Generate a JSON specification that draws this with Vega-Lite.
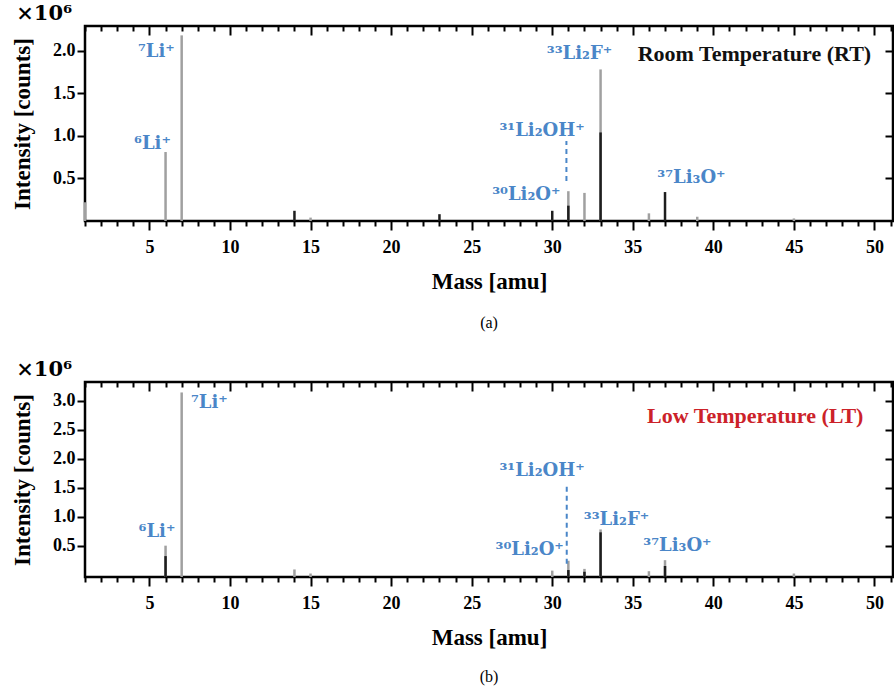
{
  "$schema": "https://vega.github.io/schema/vega-lite/v6.json",
  "padding": {"left": 10, "top": 2, "right": 0, "bottom": 0},
  "background": "white",
  "spacing": 25,
  "config": {
    "font": "Liberation Serif",
    "view": {"stroke": "black", "strokeWidth": 2.5},
    "axis": {
      "domain": false,
      "grid": false,
      "labelFont": "Liberation Serif",
      "labelFontWeight": "bold",
      "labelFontSize": 18,
      "labelColor": "black",
      "titleFont": "Liberation Serif",
      "titleFontWeight": "bold",
      "titleFontSize": 23,
      "titleColor": "black",
      "tickColor": "black",
      "tickWidth": 2
    },
    "title": {"font": "Liberation Serif", "color": "black"}
  },
  "datasets": {
    "rt": [
      {"mass": 1, "value": 0.22, "series": "grey"},
      {"mass": 6, "value": 0.81, "series": "grey"},
      {"mass": 7, "value": 2.18, "series": "grey"},
      {"mass": 15, "value": 0.04, "series": "grey"},
      {"mass": 31, "value": 0.35, "series": "grey"},
      {"mass": 32, "value": 0.33, "series": "grey"},
      {"mass": 33, "value": 1.78, "series": "grey"},
      {"mass": 36, "value": 0.09, "series": "grey"},
      {"mass": 39, "value": 0.05, "series": "grey"},
      {"mass": 45, "value": 0.03, "series": "grey"},
      {"mass": 14, "value": 0.12, "series": "dark"},
      {"mass": 23, "value": 0.08, "series": "dark"},
      {"mass": 30, "value": 0.12, "series": "dark"},
      {"mass": 31, "value": 0.18, "series": "dark"},
      {"mass": 33, "value": 1.04, "series": "dark"},
      {"mass": 37, "value": 0.34, "series": "dark"}
    ],
    "lt": [
      {"mass": 6, "value": 0.5, "series": "grey"},
      {"mass": 7, "value": 3.14, "series": "grey"},
      {"mass": 14, "value": 0.09, "series": "grey"},
      {"mass": 15, "value": 0.02, "series": "grey"},
      {"mass": 30, "value": 0.07, "series": "grey"},
      {"mass": 31, "value": 0.24, "series": "grey"},
      {"mass": 32, "value": 0.1, "series": "grey"},
      {"mass": 33, "value": 0.78, "series": "grey"},
      {"mass": 36, "value": 0.06, "series": "grey"},
      {"mass": 37, "value": 0.25, "series": "grey"},
      {"mass": 45, "value": 0.02, "series": "grey"},
      {"mass": 6, "value": 0.32, "series": "dark"},
      {"mass": 31, "value": 0.08, "series": "dark"},
      {"mass": 32, "value": 0.05, "series": "dark"},
      {"mass": 33, "value": 0.73, "series": "dark"},
      {"mass": 37, "value": 0.15, "series": "dark"}
    ],
    "rtLabels": [
      {"mass": 5.43, "value": 1.99, "label": "⁷Li⁺"},
      {"mass": 5.19, "value": 0.9, "label": "⁶Li⁺"},
      {"mass": 31.69, "value": 1.96, "label": "³³Li₂F⁺"},
      {"mass": 29.37, "value": 1.06, "label": "³¹Li₂OH⁺"},
      {"mass": 28.39, "value": 0.3, "label": "³⁰Li₂O⁺"},
      {"mass": 38.64, "value": 0.51, "label": "³⁷Li₃O⁺"}
    ],
    "ltLabels": [
      {"mass": 8.72, "value": 2.96, "label": "⁷Li⁺"},
      {"mass": 5.47, "value": 0.73, "label": "⁶Li⁺"},
      {"mass": 29.37, "value": 1.78, "label": "³¹Li₂OH⁺"},
      {"mass": 33.99, "value": 0.94, "label": "³³Li₂F⁺"},
      {"mass": 28.6, "value": 0.42, "label": "³⁰Li₂O⁺"},
      {"mass": 37.77, "value": 0.49, "label": "³⁷Li₃O⁺"}
    ],
    "rtDash": [{"mass": 30.88, "y1": 0.47, "y2": 0.94}],
    "ltDash": [{"mass": 30.9, "y1": 0.19, "y2": 1.585}],
    "rtTitle": [{"mass": 42.55, "value": 1.96, "label": "Room Temperature (RT)"}],
    "ltTitle": [{"mass": 42.6, "value": 2.74, "label": "Low Temperature (LT)"}]
  },
  "vconcat": [
    {
      "title": {"text": "×10⁶", "orient": "top", "anchor": "start", "frame": "bounds", "font": "DejaVu Serif", "fontSize": 21, "fontWeight": "bold", "offset": 0, "dx": 6},
      "vconcat": [
        {
          "width": 808,
          "height": 195,
          "title": {"text": "(a)", "orient": "bottom", "anchor": "middle", "fontSize": 16, "fontWeight": "normal", "offset": 22},
          "resolve": {"axis": {"x": "independent", "y": "independent"}},
          "layer": [
            {
              "data": {"name": "rt"},
              "mark": {"type": "rule", "strokeWidth": 2.5},
              "encoding": {
                "x": {"field": "mass", "type": "quantitative", "scale": {"domain": [1, 51.15], "nice": false, "zero": false},
                  "axis": {"orient": "bottom", "title": "Mass [amu]", "values": [1,2,3,4,5,6,7,8,9,10,11,12,13,14,15,16,17,18,19,20,21,22,23,24,25,26,27,28,29,30,31,32,33,34,35,36,37,38,39,40,41,42,43,44,45,46,47,48,49,50,51],
                    "labelExpr": "datum.value % 5 === 0 ? datum.label : ''",
                    "tickSize": {"condition": {"test": "datum.value % 5 === 0", "value": 9}, "value": 5},
                    "labelPadding": 8, "titlePadding": 14, "labelFlush": false}},
                "y": {"field": "value", "type": "quantitative", "scale": {"domain": [0, 2.29], "nice": false},
                  "axis": {"orient": "left", "title": "Intensity [counts]", "values": [0.5, 1, 1.5, 2], "format": ".1f", "tickSize": 8, "labelPadding": 2, "titlePadding": 18}},
                "y2": {"datum": 0},
                "color": {"field": "series", "type": "nominal", "scale": {"domain": ["grey", "dark"], "range": ["#a0a0a0", "#1e1e1e"]}, "legend": null}
              }
            },
            {
              "data": {"name": "rt"},
              "mark": {"type": "rule", "strokeOpacity": 0},
              "encoding": {
                "x": {"field": "mass", "type": "quantitative",
                  "axis": {"orient": "top", "title": null, "labels": false, "values": [1,2,3,4,5,6,7,8,9,10,11,12,13,14,15,16,17,18,19,20,21,22,23,24,25,26,27,28,29,30,31,32,33,34,35,36,37,38,39,40,41,42,43,44,45,46,47,48,49,50,51],
                    "tickSize": {"condition": {"test": "datum.value % 5 === 0", "value": -9}, "value": -5}}},
                "y": {"field": "value", "type": "quantitative",
                  "axis": {"orient": "right", "title": null, "labels": false, "values": [0.5, 1, 1.5, 2], "tickSize": -8}}
              }
            },
            {
              "data": {"name": "rtDash"},
              "mark": {"type": "rule", "strokeDash": [5, 4], "strokeWidth": 2, "color": "#4a86c8"},
              "encoding": {
                "x": {"field": "mass", "type": "quantitative", "axis": null},
                "y": {"field": "y1", "type": "quantitative", "axis": null},
                "y2": {"field": "y2"}
              }
            },
            {
              "data": {"name": "rtLabels"},
              "mark": {"type": "text", "font": "DejaVu Serif", "fontWeight": "bold", "fontSize": 18, "color": "#4a86c8", "align": "center", "baseline": "middle"},
              "encoding": {
                "x": {"field": "mass", "type": "quantitative", "axis": null},
                "y": {"field": "value", "type": "quantitative", "axis": null},
                "text": {"field": "label"}
              }
            },
            {
              "data": {"name": "rtTitle"},
              "mark": {"type": "text", "font": "Liberation Serif", "fontWeight": "bold", "fontSize": 22, "color": "#111111", "align": "center", "baseline": "middle"},
              "encoding": {
                "x": {"field": "mass", "type": "quantitative", "axis": null},
                "y": {"field": "value", "type": "quantitative", "axis": null},
                "text": {"field": "label"}
              }
            }
          ]
        }
      ]
    },
    {
      "title": {"text": "×10⁶", "orient": "top", "anchor": "start", "frame": "bounds", "font": "DejaVu Serif", "fontSize": 21, "fontWeight": "bold", "offset": 0, "dx": 6},
      "vconcat": [
        {
          "width": 808,
          "height": 195,
          "title": {"text": "(b)", "orient": "bottom", "anchor": "middle", "fontSize": 16, "fontWeight": "normal", "offset": 20},
          "resolve": {"axis": {"x": "independent", "y": "independent"}},
          "layer": [
            {
              "data": {"name": "lt"},
              "mark": {"type": "rule", "strokeWidth": 2.5},
              "encoding": {
                "x": {"field": "mass", "type": "quantitative", "scale": {"domain": [1, 51.15], "nice": false, "zero": false},
                  "axis": {"orient": "bottom", "title": "Mass [amu]", "values": [1,2,3,4,5,6,7,8,9,10,11,12,13,14,15,16,17,18,19,20,21,22,23,24,25,26,27,28,29,30,31,32,33,34,35,36,37,38,39,40,41,42,43,44,45,46,47,48,49,50,51],
                    "labelExpr": "datum.value % 5 === 0 ? datum.label : ''",
                    "tickSize": {"condition": {"test": "datum.value % 5 === 0", "value": 9}, "value": 5},
                    "labelPadding": 8, "titlePadding": 14, "labelFlush": false}},
                "y": {"field": "value", "type": "quantitative", "scale": {"domain": [-0.04, 3.32], "nice": false, "zero": false},
                  "axis": {"orient": "left", "title": "Intensity [counts]", "values": [0.5, 1, 1.5, 2, 2.5, 3], "format": ".1f", "tickSize": 8, "labelPadding": 2, "titlePadding": 18}},
                "y2": {"datum": -0.04},
                "color": {"field": "series", "type": "nominal", "scale": {"domain": ["grey", "dark"], "range": ["#a0a0a0", "#1e1e1e"]}, "legend": null}
              }
            },
            {
              "data": {"name": "lt"},
              "mark": {"type": "rule", "strokeOpacity": 0},
              "encoding": {
                "x": {"field": "mass", "type": "quantitative",
                  "axis": {"orient": "top", "title": null, "labels": false, "values": [1,2,3,4,5,6,7,8,9,10,11,12,13,14,15,16,17,18,19,20,21,22,23,24,25,26,27,28,29,30,31,32,33,34,35,36,37,38,39,40,41,42,43,44,45,46,47,48,49,50,51],
                    "tickSize": {"condition": {"test": "datum.value % 5 === 0", "value": -9}, "value": -5}}},
                "y": {"field": "value", "type": "quantitative",
                  "axis": {"orient": "right", "title": null, "labels": false, "values": [0.5, 1, 1.5, 2, 2.5, 3], "tickSize": -8}}
              }
            },
            {
              "data": {"name": "ltDash"},
              "mark": {"type": "rule", "strokeDash": [5, 4], "strokeWidth": 2, "color": "#4a86c8"},
              "encoding": {
                "x": {"field": "mass", "type": "quantitative", "axis": null},
                "y": {"field": "y1", "type": "quantitative", "axis": null},
                "y2": {"field": "y2"}
              }
            },
            {
              "data": {"name": "ltLabels"},
              "mark": {"type": "text", "font": "DejaVu Serif", "fontWeight": "bold", "fontSize": 18, "color": "#4a86c8", "align": "center", "baseline": "middle"},
              "encoding": {
                "x": {"field": "mass", "type": "quantitative", "axis": null},
                "y": {"field": "value", "type": "quantitative", "axis": null},
                "text": {"field": "label"}
              }
            },
            {
              "data": {"name": "ltTitle"},
              "mark": {"type": "text", "font": "Liberation Serif", "fontWeight": "bold", "fontSize": 22, "color": "#cc2229", "align": "center", "baseline": "middle"},
              "encoding": {
                "x": {"field": "mass", "type": "quantitative", "axis": null},
                "y": {"field": "value", "type": "quantitative", "axis": null},
                "text": {"field": "label"}
              }
            }
          ]
        }
      ]
    }
  ]
}
